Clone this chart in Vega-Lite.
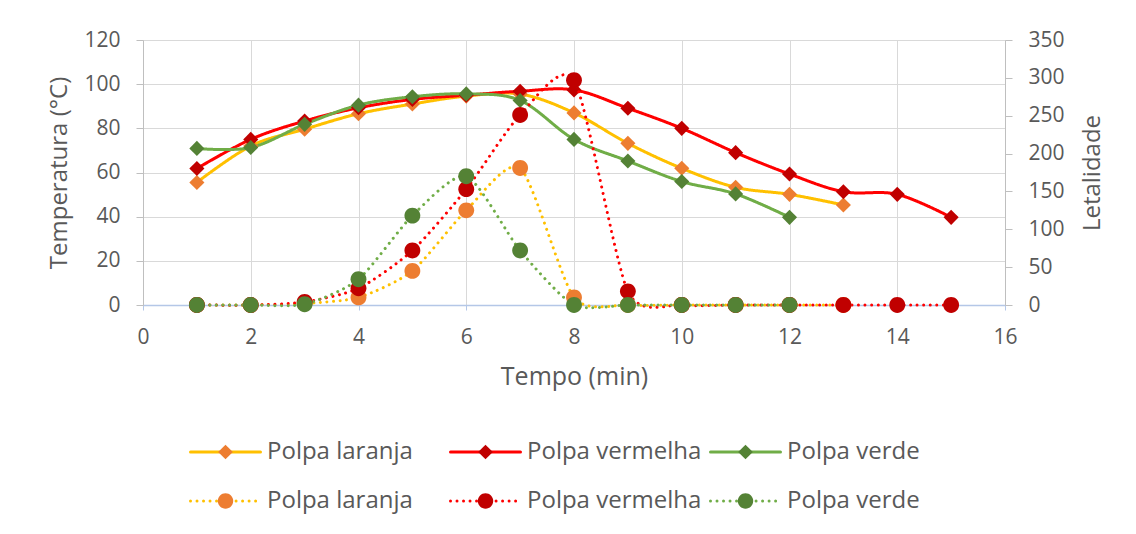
{
  "$schema": "https://vega.github.io/schema/vega-lite/v6.json",
  "width": 862,
  "height": 265,
  "autosize": {"type": "none"},
  "padding": {"left": 143, "top": 40, "right": 131, "bottom": 229},
  "background": "white",
  "config": {
    "view": {"stroke": null},
    "font": "Open Sans",
    "axis": {
      "labelFont": "Open Sans",
      "titleFont": "Open Sans",
      "labelColor": "#595959",
      "titleColor": "#595959",
      "titleFontWeight": "normal",
      "labelFontSize": 21,
      "titleFontSize": 24
    },
    "legend": {
      "orient": "none", "legendX": 46, "legendY": 400, "direction": "horizontal", "columns": 3,
      "symbolSize": 4900, "symbolStrokeWidth": 3, "clipHeight": 24,
      "labelFontSize": 24, "labelFont": "Open Sans", "labelColor": "#595959", "labelOffset": 5, "labelLimit": 400,
      "columnPadding": 7, "rowPadding": 25, "gridAlign": "all", "padding": 0
    }
  },
  "datasets": {
    "temperatura": [
      {"serie": "1 Polpa laranja", "tempo": 1, "valor": 55.5},
      {"serie": "1 Polpa laranja", "tempo": 2, "valor": 72},
      {"serie": "1 Polpa laranja", "tempo": 3, "valor": 79.6},
      {"serie": "1 Polpa laranja", "tempo": 4, "valor": 86.6},
      {"serie": "1 Polpa laranja", "tempo": 5, "valor": 91},
      {"serie": "1 Polpa laranja", "tempo": 6, "valor": 94.6},
      {"serie": "1 Polpa laranja", "tempo": 7, "valor": 95.5},
      {"serie": "1 Polpa laranja", "tempo": 8, "valor": 87},
      {"serie": "1 Polpa laranja", "tempo": 9, "valor": 73.2},
      {"serie": "1 Polpa laranja", "tempo": 10, "valor": 61.9},
      {"serie": "1 Polpa laranja", "tempo": 11, "valor": 53.3},
      {"serie": "1 Polpa laranja", "tempo": 12, "valor": 50.1},
      {"serie": "1 Polpa laranja", "tempo": 13, "valor": 45.3},
      {"serie": "2 Polpa vermelha", "tempo": 1, "valor": 61.8},
      {"serie": "2 Polpa vermelha", "tempo": 2, "valor": 75},
      {"serie": "2 Polpa vermelha", "tempo": 3, "valor": 83.3},
      {"serie": "2 Polpa vermelha", "tempo": 4, "valor": 89.3},
      {"serie": "2 Polpa vermelha", "tempo": 5, "valor": 93.1},
      {"serie": "2 Polpa vermelha", "tempo": 6, "valor": 95},
      {"serie": "2 Polpa vermelha", "tempo": 7, "valor": 96.8},
      {"serie": "2 Polpa vermelha", "tempo": 8, "valor": 97.4},
      {"serie": "2 Polpa vermelha", "tempo": 9, "valor": 89.1},
      {"serie": "2 Polpa vermelha", "tempo": 10, "valor": 80},
      {"serie": "2 Polpa vermelha", "tempo": 11, "valor": 69},
      {"serie": "2 Polpa vermelha", "tempo": 12, "valor": 59.3},
      {"serie": "2 Polpa vermelha", "tempo": 13, "valor": 51.3},
      {"serie": "2 Polpa vermelha", "tempo": 14, "valor": 50.1},
      {"serie": "2 Polpa vermelha", "tempo": 15, "valor": 39.7},
      {"serie": "3 Polpa verde", "tempo": 1, "valor": 70.9},
      {"serie": "3 Polpa verde", "tempo": 2, "valor": 71.3},
      {"serie": "3 Polpa verde", "tempo": 3, "valor": 81.8},
      {"serie": "3 Polpa verde", "tempo": 4, "valor": 90.5},
      {"serie": "3 Polpa verde", "tempo": 5, "valor": 94.3},
      {"serie": "3 Polpa verde", "tempo": 6, "valor": 95.6},
      {"serie": "3 Polpa verde", "tempo": 7, "valor": 92.6},
      {"serie": "3 Polpa verde", "tempo": 8, "valor": 75},
      {"serie": "3 Polpa verde", "tempo": 9, "valor": 65.2},
      {"serie": "3 Polpa verde", "tempo": 10, "valor": 55.9},
      {"serie": "3 Polpa verde", "tempo": 11, "valor": 50.3},
      {"serie": "3 Polpa verde", "tempo": 12, "valor": 39.7}
    ],
    "letalidade": [
      {"serie": "4 Polpa laranja", "tempo": 1, "valor": 0},
      {"serie": "4 Polpa laranja", "tempo": 2, "valor": 0},
      {"serie": "4 Polpa laranja", "tempo": 3, "valor": 2},
      {"serie": "4 Polpa laranja", "tempo": 4, "valor": 10},
      {"serie": "4 Polpa laranja", "tempo": 5, "valor": 45},
      {"serie": "4 Polpa laranja", "tempo": 6, "valor": 125},
      {"serie": "4 Polpa laranja", "tempo": 7, "valor": 181},
      {"serie": "4 Polpa laranja", "tempo": 8, "valor": 10},
      {"serie": "4 Polpa laranja", "tempo": 9, "valor": 0},
      {"serie": "4 Polpa laranja", "tempo": 10, "valor": 0},
      {"serie": "4 Polpa laranja", "tempo": 11, "valor": 0},
      {"serie": "4 Polpa laranja", "tempo": 12, "valor": 0},
      {"serie": "4 Polpa laranja", "tempo": 13, "valor": 0},
      {"serie": "5 Polpa vermelha", "tempo": 1, "valor": 0},
      {"serie": "5 Polpa vermelha", "tempo": 2, "valor": 0},
      {"serie": "5 Polpa vermelha", "tempo": 3, "valor": 4},
      {"serie": "5 Polpa vermelha", "tempo": 4, "valor": 22},
      {"serie": "5 Polpa vermelha", "tempo": 5, "valor": 72},
      {"serie": "5 Polpa vermelha", "tempo": 6, "valor": 153},
      {"serie": "5 Polpa vermelha", "tempo": 7, "valor": 251},
      {"serie": "5 Polpa vermelha", "tempo": 8, "valor": 297},
      {"serie": "5 Polpa vermelha", "tempo": 9, "valor": 18},
      {"serie": "5 Polpa vermelha", "tempo": 10, "valor": 0},
      {"serie": "5 Polpa vermelha", "tempo": 11, "valor": 0},
      {"serie": "5 Polpa vermelha", "tempo": 12, "valor": 0},
      {"serie": "5 Polpa vermelha", "tempo": 13, "valor": 0},
      {"serie": "5 Polpa vermelha", "tempo": 14, "valor": 0},
      {"serie": "5 Polpa vermelha", "tempo": 15, "valor": 0},
      {"serie": "6 Polpa verde", "tempo": 1, "valor": 0},
      {"serie": "6 Polpa verde", "tempo": 2, "valor": 0},
      {"serie": "6 Polpa verde", "tempo": 3, "valor": 1},
      {"serie": "6 Polpa verde", "tempo": 4, "valor": 34},
      {"serie": "6 Polpa verde", "tempo": 5, "valor": 118},
      {"serie": "6 Polpa verde", "tempo": 6, "valor": 170},
      {"serie": "6 Polpa verde", "tempo": 7, "valor": 72},
      {"serie": "6 Polpa verde", "tempo": 8, "valor": 0},
      {"serie": "6 Polpa verde", "tempo": 9, "valor": 0},
      {"serie": "6 Polpa verde", "tempo": 10, "valor": 0},
      {"serie": "6 Polpa verde", "tempo": 11, "valor": 0},
      {"serie": "6 Polpa verde", "tempo": 12, "valor": 0}
    ]
  },
  "layer": [
    {
      "layer": [
        {
          "data": {"name": "temperatura"},
          "mark": {"type": "line", "interpolate": "cardinal", "strokeWidth": 3, "strokeCap": "round", "strokeJoin": "round"},
          "encoding": {
            "x": {
              "field": "tempo", "type": "quantitative",
              "scale": {"domain": [0, 16], "nice": false},
              "axis": {
                "values": [0, 2, 4, 6, 8, 10, 12, 14, 16],
                "grid": true, "gridColor": "#D9D9D9", "gridWidth": 1,
                "domainColor": "#B4C7E7", "domainWidth": 1.5,
                "tickColor": "#B4C7E7", "tickSize": 5, "labelPadding": 16,
                "labelFlush": false, "labelOverlap": false,
                "title": "Tempo (min)", "titlePadding": 17, "titleFontSize": 25
              }
            },
            "y": {
              "field": "valor", "type": "quantitative",
              "scale": {"domain": [0, 120], "nice": false},
              "axis": {
                "values": [0, 20, 40, 60, 80, 100, 120],
                "grid": true, "gridColor": "#D9D9D9", "gridWidth": 1,
                "domainColor": "#BFBFBF", "tickColor": "#BFBFBF", "tickSize": 7,
                "labelPadding": 16, "labelFlush": false, "labelOverlap": false,
                "title": "Temperatura (°C)", "titlePadding": 12
              }
            },
            "stroke": {
              "field": "serie", "type": "nominal",
              "scale": {"range": ["#FFC000", "#FF0000", "#70AD47", "#FFC000", "#FF0000", "#70AD47"]},
              "legend": {
                "title": null, "symbolType": "M-1,0H1", "labelExpr": "substring(datum.label, 2)", "zindex": 0,
                "encode": {"symbols": {"update": {"strokeCap": {"value": "round"}, "fill": {"value": "transparent"}}}}
              }
            },
            "strokeDash": {
              "field": "serie", "type": "nominal",
              "scale": {"range": [[1, 0], [1, 0], [1, 0], [0.01, 6.5], [0.01, 6.5], [0.01, 6.5]]},
              "legend": {
                "title": null, "symbolType": "M-1,0H1", "labelExpr": "substring(datum.label, 2)", "zindex": 0,
                "encode": {"symbols": {"update": {"strokeCap": {"value": "round"}, "fill": {"value": "transparent"}}}}
              }
            }
          }
        },
        {
          "data": {"name": "temperatura"},
          "mark": {"type": "point", "filled": true, "size": 5184, "opacity": 1},
          "encoding": {
            "x": {"field": "tempo", "type": "quantitative"},
            "y": {"field": "valor", "type": "quantitative"},
            "fill": {
              "field": "serie", "type": "nominal",
              "scale": {
                "domain": ["1 Polpa laranja", "2 Polpa vermelha", "3 Polpa verde", "4 Polpa laranja", "5 Polpa vermelha", "6 Polpa verde"],
                "range": ["#ED7D31", "#C00000", "#548235", "#ED7D31", "#C00000", "#548235"]
              },
              "legend": {
                "title": null, "labelExpr": "substring(datum.label, 2)", "labelOpacity": 0, "zindex": 1,
                "encode": {"symbols": {"update": {"stroke": {"value": "transparent"}}}}
              }
            },
            "shape": {
              "field": "serie", "type": "nominal",
              "scale": {
                "domain": ["1 Polpa laranja", "2 Polpa vermelha", "3 Polpa verde", "4 Polpa laranja", "5 Polpa vermelha", "6 Polpa verde"],
                "range": [
                  "M0,-0.21L0.21,0L0,0.21L-0.21,0Z",
                  "M0,-0.21L0.21,0L0,0.21L-0.21,0Z",
                  "M0,-0.21L0.21,0L0,0.21L-0.21,0Z",
                  "M-0.22,0A0.22,0.22,0,1,0,0.22,0A0.22,0.22,0,1,0,-0.22,0Z",
                  "M-0.22,0A0.22,0.22,0,1,0,0.22,0A0.22,0.22,0,1,0,-0.22,0Z",
                  "M-0.22,0A0.22,0.22,0,1,0,0.22,0A0.22,0.22,0,1,0,-0.22,0Z"
                ]
              },
              "legend": {
                "title": null, "labelExpr": "substring(datum.label, 2)", "labelOpacity": 0, "zindex": 1,
                "encode": {"symbols": {"update": {"stroke": {"value": "transparent"}}}}
              }
            }
          }
        }
      ]
    },
    {
      "layer": [
        {
          "data": {"name": "letalidade"},
          "mark": {"type": "line", "interpolate": "cardinal", "tension": 0.3, "strokeWidth": 3, "strokeCap": "round", "strokeJoin": "round"},
          "encoding": {
            "x": {"field": "tempo", "type": "quantitative"},
            "y": {
              "field": "valor", "type": "quantitative",
              "scale": {"domain": [0, 350], "nice": false},
              "axis": {
                "orient": "right",
                "values": [0, 50, 100, 150, 200, 250, 300, 350],
                "grid": false,
                "domainColor": "#BFBFBF", "tickColor": "#BFBFBF", "tickSize": 7,
                "labelPadding": 16, "labelFlush": false, "labelOverlap": false,
                "title": "Letalidade", "titleAngle": 270, "titleX": 87, "titleY": 132.5,
                "titleAlign": "center", "titleBaseline": "middle"
              }
            },
            "stroke": {"field": "serie", "type": "nominal"},
            "strokeDash": {"field": "serie", "type": "nominal"}
          }
        },
        {
          "data": {"name": "letalidade"},
          "mark": {"type": "point", "filled": true, "size": 5184, "opacity": 1},
          "encoding": {
            "x": {"field": "tempo", "type": "quantitative"},
            "y": {
              "field": "valor", "type": "quantitative",
              "axis": {
                "orient": "right",
                "values": [0, 50, 100, 150, 200, 250, 300, 350],
                "grid": false,
                "domainColor": "#BFBFBF", "tickColor": "#BFBFBF", "tickSize": 7,
                "labelPadding": 16, "labelFlush": false, "labelOverlap": false,
                "title": "Letalidade", "titleAngle": 270, "titleX": 87, "titleY": 132.5,
                "titleAlign": "center", "titleBaseline": "middle"
              }
            },
            "fill": {"field": "serie", "type": "nominal"},
            "shape": {"field": "serie", "type": "nominal"}
          }
        }
      ]
    }
  ],
  "resolve": {"scale": {"y": "independent"}}
}
